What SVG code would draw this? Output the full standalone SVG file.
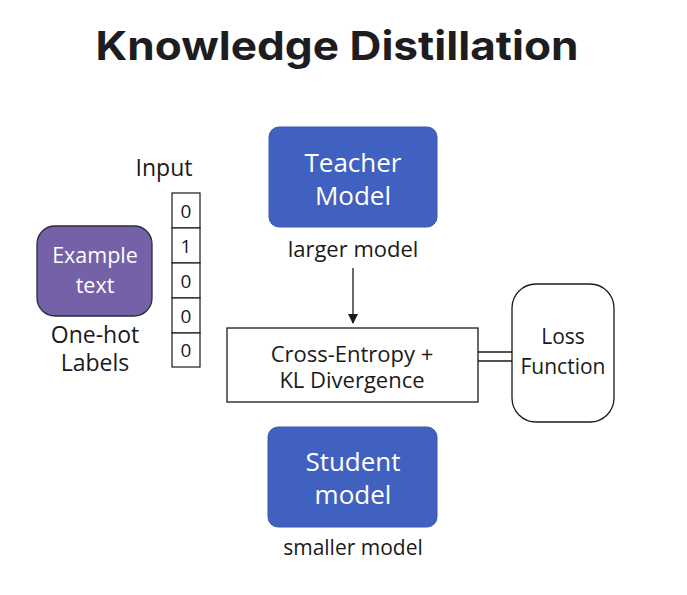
<svg xmlns="http://www.w3.org/2000/svg" width="687" height="595" viewBox="0 0 687 595">
<defs>
<style>
.t{font-family:"Open Sans","Liberation Sans",sans-serif;fill:#1a1a1a;text-anchor:middle}
.w{font-family:"Open Sans","Liberation Sans",sans-serif;fill:#ffffff;text-anchor:middle}
.blue{fill:#4161C0;stroke:#3a57b0;stroke-width:1}
.ln{stroke:#1a1a1a;stroke-width:1.3;fill:none}
.cell{fill:#ffffff;stroke:#1a1a1a;stroke-width:1.2}
</style>
<marker id="ah" markerWidth="10" markerHeight="10" refX="9" refY="5" orient="auto" markerUnits="userSpaceOnUse">
<path d="M0,0 L10,5 L0,10 z" fill="#1a1a1a"/>
</marker>
</defs>
<rect width="687" height="595" fill="#ffffff"/>
<text x="337" y="60" font-family="Inter,'Liberation Sans',sans-serif" font-weight="bold" font-size="40" fill="#1d1d1f" text-anchor="middle" textLength="483" lengthAdjust="spacingAndGlyphs">Knowledge Distillation</text>

<g id="connectors">
<line class="ln" x1="353" y1="268" x2="353" y2="323" marker-end="url(#ah)"/>
<line class="ln" x1="478" y1="352" x2="513" y2="352"/>
<line class="ln" x1="478" y1="361" x2="513" y2="361"/>
</g>

<g id="example">
<rect x="37" y="226" width="115" height="90" rx="18" fill="#7461A8" stroke="#2e2a3a" stroke-width="1.3"/>
<text class="w" x="95" y="263" font-size="21.5">Example</text>
<text class="w" x="95" y="293" font-size="21.5">text</text>
<text class="t" x="95" y="343" font-size="23">One-hot</text>
<text class="t" x="95" y="371" font-size="23">Labels</text>
</g>

<g id="input">
<text class="t" x="164" y="176" font-size="23">Input</text>
<rect class="cell" x="172" y="193" width="28" height="35"/>
<rect class="cell" x="172" y="228" width="28" height="35"/>
<rect class="cell" x="172" y="263" width="28" height="35"/>
<rect class="cell" x="172" y="298" width="28" height="35"/>
<rect class="cell" x="172" y="333" width="28" height="34"/>
<text class="t" x="186" y="218" font-size="19">0</text>
<text class="t" x="186" y="253" font-size="19">1</text>
<text class="t" x="186" y="288" font-size="19">0</text>
<text class="t" x="186" y="323" font-size="19">0</text>
<text class="t" x="186" y="357" font-size="19">0</text>
</g>

<g id="teacher">
<rect class="blue" x="269" y="127" width="168" height="100" rx="10"/>
<text class="w" x="353" y="172" font-size="26">Teacher</text>
<text class="w" x="353" y="205" font-size="26">Model</text>
<text class="t" x="353" y="257" font-size="22">larger model</text>
</g>

<g id="loss-calc">
<rect x="227" y="328" width="251" height="74" fill="#ffffff" stroke="#1a1a1a" stroke-width="1.3"/>
<text class="t" x="352" y="362" font-size="22">Cross-Entropy +</text>
<text class="t" x="352" y="388" font-size="22">KL Divergence</text>
</g>

<g id="loss-function">
<rect x="512" y="284" width="102" height="138" rx="24" fill="#ffffff" stroke="#1a1a1a" stroke-width="1.3"/>
<text class="t" x="563" y="344" font-size="21">Loss</text>
<text class="t" x="563" y="374" font-size="21">Function</text>
</g>

<g id="student">
<rect class="blue" x="268" y="427" width="169" height="100" rx="10"/>
<text class="w" x="353" y="471" font-size="26">Student</text>
<text class="w" x="353" y="504" font-size="26">model</text>
<text class="t" x="353" y="555" font-size="21">smaller model</text>
</g>
</svg>
